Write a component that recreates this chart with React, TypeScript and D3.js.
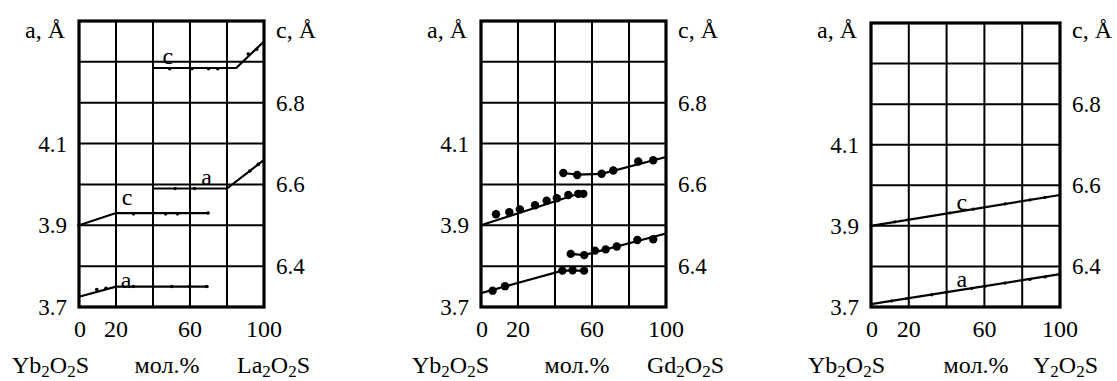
import { useEffect } from 'react';
import * as d3 from 'd3';

// оси и деления
const xGrid = [0, 20, 40, 60, 80, 100];
const xTicks = [0, 20, 60, 100];
const aGrid = [3.7, 3.8, 3.9, 4.0, 4.1, 4.2, 4.3, 4.4];
const aTicks = [3.7, 3.9, 4.1];
const cTicks = [6.4, 6.6, 6.8];

// Yb2O2S - La2O2S
const laALow = [[0, 3.725], [20, 3.75], [70, 3.75]];
const laALowDots = [[9.6, 3.743], [14.6, 3.746], [29.4, 3.75], [50.1, 3.75], [59.6, 3.75], [69, 3.75]];
const laCLow = [[0, 6.5], [20, 6.53], [70, 6.53]];
const laCLowDots = [[0, 6.5], [29.4, 6.528], [46.8, 6.528], [53.2, 6.528], [69.8, 6.53]];
const laAHigh = [[40, 3.99], [80, 3.99], [100, 4.06]];
const laAHighDots = [[52, 3.99], [62.5, 3.99], [92.4, 4.033], [96.9, 4.049]];
const laCHigh = [[40, 6.885], [85, 6.885], [100, 6.95]];
const laCHighDots = [[49, 6.883], [61, 6.883], [70, 6.883], [75, 6.883], [91.5, 6.919], [96, 6.931]];

// Yb2O2S - Gd2O2S
const gdALow = [[0, 3.734], [44, 3.789], [55.7, 3.789]];
const gdALowDots = [[6.3, 3.74], [13, 3.751], [44, 3.789], [49.5, 3.79], [55.7, 3.789]];
const gdCLow = [[0, 6.5], [52.6, 6.577], [55.3, 6.577]];
const gdCLowDots = [[8.1, 6.527], [15.3, 6.532], [21, 6.539], [29.2, 6.549], [35.5, 6.56], [41, 6.566], [47.2, 6.574], [52.6, 6.577], [55.3, 6.577]];
const gdAHigh = [[48.5, 3.83], [55.8, 3.827], [100, 3.88]];
const gdAHighDots = [[48.5, 3.83], [55.8, 3.827], [61.6, 3.838], [67.4, 3.841], [73.4, 3.848], [84.5, 3.864], [93.1, 3.866]];
const gdCHigh = [[44.5, 6.628], [52, 6.624], [65.2, 6.626], [100, 6.667]];
const gdCHighDots = [[44.5, 6.628], [52, 6.623], [65.2, 6.626], [71.5, 6.634], [85, 6.656], [93.1, 6.659]];

// Yb2O2S - Y2O2S
const yA = [[0, 3.707], [100, 3.781]];
const yADots = [[10.9, 3.715], [18.9, 3.721], [32.1, 3.73], [40, 3.736], [53.3, 3.746], [60.3, 3.751], [70.9, 3.759], [84.1, 3.768], [92.1, 3.774]];
const yC = [[0, 6.5], [100, 6.576]];
const yCDots = [[0, 6.5], [12.6, 6.51], [19.7, 6.515], [41.8, 6.532], [54.1, 6.541], [70.9, 6.554], [84.1, 6.564], [92.1, 6.57]];

type Pt = number[];
interface Series { axis: 'a' | 'c'; line: Pt[]; dots: Pt[] }
interface Note { text: string; x: number; a: number }
interface Panel {
    left: number; right: number; top: number; bottom: number;
    right2: string; r: number;
    leftF: number; molX: number; rightF: number;
    series: Series[]; notes: Note[];
}

const panels: Panel[] = [
    {
        left: 79, right: 264, top: 21, bottom: 307, right2: 'La', r: 1.8,
        leftF: 12, molX: 167, rightF: 237,
        series: [
            { axis: 'a', line: laALow, dots: laALowDots },
            { axis: 'c', line: laCLow, dots: laCLowDots },
            { axis: 'a', line: laAHigh, dots: laAHighDots },
            { axis: 'c', line: laCHigh, dots: laCHighDots },
        ],
        notes: [
            { text: 'c', x: 48, a: 4.315 },
            { text: 'a', x: 69, a: 4.018 },
            { text: 'c', x: 26, a: 3.969 },
            { text: 'a', x: 25.4, a: 3.768 },
        ],
    },
    {
        left: 481, right: 666, top: 21, bottom: 307, right2: 'Gd', r: 4.2,
        leftF: 412, molX: 577, rightF: 647,
        series: [
            { axis: 'a', line: gdALow, dots: gdALowDots },
            { axis: 'c', line: gdCLow, dots: gdCLowDots },
            { axis: 'a', line: gdAHigh, dots: gdAHighDots },
            { axis: 'c', line: gdCHigh, dots: gdCHighDots },
        ],
        notes: [],
    },
    {
        left: 871, right: 1060, top: 23, bottom: 307, right2: 'Y', r: 1.6,
        leftF: 808, molX: 976, rightF: 1033,
        series: [
            { axis: 'a', line: yA, dots: yADots },
            { axis: 'c', line: yC, dots: yCDots },
        ],
        notes: [
            { text: 'c', x: 48, a: 3.959 },
            { text: 'a', x: 48, a: 3.769 },
        ],
    },
];

function Formula({ x, el }: { x: number; el: string }) {
    return (
        <text x={x} y={373} fontSize={24}>
            {el}
            <tspan baselineShift="-25%" fontSize={17}>2</tspan>
            O
            <tspan baselineShift="-25%" fontSize={17}>2</tspan>
            S
        </text>
    );
}

function PanelView({ p }: { p: Panel }) {
    const x = d3.scaleLinear().domain([0, 100]).range([p.left, p.right]);
    const ya = d3.scaleLinear().domain([3.7, 4.4]).range([p.bottom, p.top]);
    const yc = d3.scaleLinear().domain([6.3, 7.0]).range([p.bottom, p.top]);

    return (
        <g>
            {/* сетка */}
            {xGrid.map(d => (
                <line key={'v' + d} x1={x(d)} x2={x(d)} y1={p.top} y2={p.bottom} stroke="#000" strokeWidth={2} />
            ))}
            {aGrid.map(d => (
                <line key={'h' + d} x1={p.left} x2={p.right} y1={ya(d)} y2={ya(d)} stroke="#000" strokeWidth={2} />
            ))}
            <rect x={p.left} y={p.top} width={p.right - p.left} height={p.bottom - p.top}
                fill="none" stroke="#000" strokeWidth={3.2} />

            {aTicks.map(d => (
                <text key={'at' + d} x={p.left - 12} y={ya(d)} dy="0.35em" textAnchor="end" fontSize={23}>{d.toFixed(1)}</text>
            ))}
            {cTicks.map(d => (
                <text key={'ct' + d} x={p.right + 12} y={yc(d)} dy="0.35em" fontSize={23}>{d.toFixed(1)}</text>
            ))}
            {xTicks.map(d => (
                <text key={'xt' + d} x={x(d) + (d === 0 ? 1 : 0)} y={337} textAnchor="middle" fontSize={24}>{d}</text>
            ))}

            <text x={p.left - 14} y={38} textAnchor="end" fontSize={24}>a, Å</text>
            <text x={p.right + 12} y={38} fontSize={24}>c, Å</text>

            {/* линии и точки */}
            {p.series.map((s, i) => {
                const y = s.axis === 'a' ? ya : yc;
                const line = d3.line<Pt>().x(d => x(d[0])).y(d => y(d[1]));
                return (
                    <g key={'s' + i}>
                        <path d={line(s.line) || ''} fill="none" stroke="#000" strokeWidth={2.2} />
                        {s.dots.map((d, j) => (
                            <circle key={j} cx={x(d[0])} cy={y(d[1])} r={p.r} fill="#000" />
                        ))}
                    </g>
                );
            })}

            {p.notes.map((n, i) => (
                <text key={'n' + i} x={x(n.x)} y={ya(n.a)} dy="0.35em" textAnchor="middle" fontSize={24}>{n.text}</text>
            ))}

            <Formula x={p.leftF} el="Yb" />
            <text x={p.molX} y={373} textAnchor="middle" fontSize={24}>мол.%</text>
            <Formula x={p.rightF} el={p.right2} />
        </g>
    );
}

export default function App() {
    useEffect(() => {
        document.body.style.margin = '0';
    }, []);

    return (
        <svg width={1117} height={381} style={{ display: 'block', fontFamily: 'Liberation Serif' }}>
            <rect width={1117} height={381} fill="#fff" />
            {panels.map((p, i) => <PanelView key={i} p={p} />)}
        </svg>
    );
}
